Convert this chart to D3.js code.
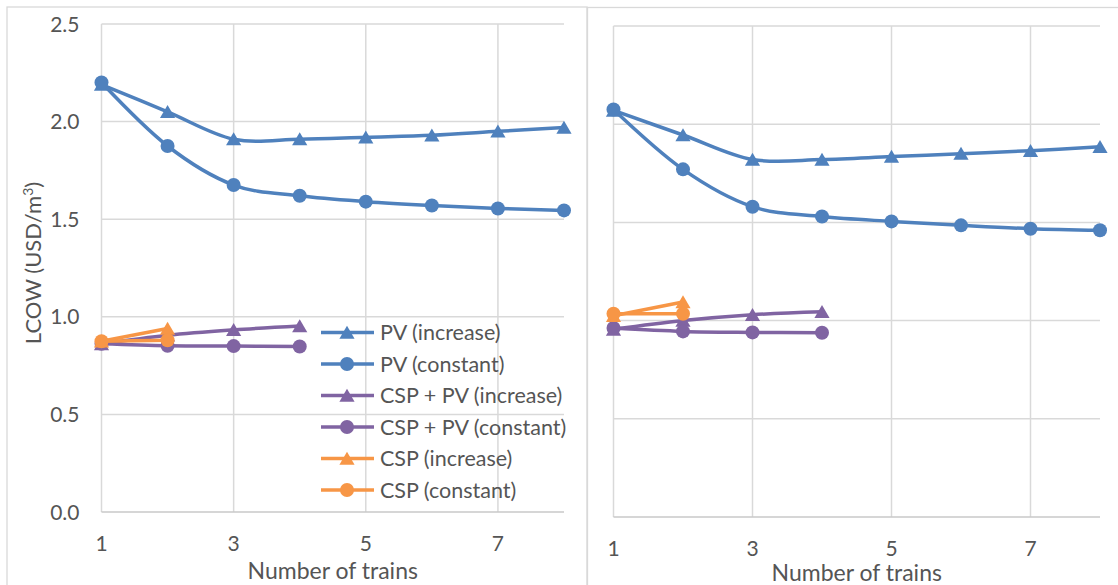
<!DOCTYPE html>
<html>
<head>
<meta charset="utf-8">
<script src="https://cdn.jsdelivr.net/npm/d3@7"></script>
<style>
  html, body { margin: 0; padding: 0; background: #fff; }
  svg { display: block; font-family: Lato, "Noto Sans", sans-serif; }
</style>
</head>
<body>
<svg id="chart" width="1118" height="585"></svg>
<script>
// values
const trains = [1, 2, 3, 4, 5, 6, 7, 8];
const xTicks = [1, 3, 5, 7];
const yTicks = [0, 0.5, 1.0, 1.5, 2.0, 2.5];

const leftPvIncrease = [2.19, 2.05, 1.91, 1.91, 1.92, 1.93, 1.95, 1.97];
const leftPvConstant = [2.20, 1.875, 1.675, 1.62, 1.59, 1.57, 1.555, 1.545];
const leftHybridIncrease = [0.86, 0.905, 0.933, 0.953];
const leftHybridConstant = [0.862, 0.852, 0.85, 0.848];
const leftCspIncrease = [0.875, 0.94];
const leftCspConstant = [0.875, 0.88];

const rightPvIncrease = [2.07, 1.945, 1.82, 1.82, 1.835, 1.85, 1.865, 1.885];
const rightPvConstant = [2.075, 1.77, 1.58, 1.53, 1.505, 1.485, 1.468, 1.46];
const rightHybridIncrease = [0.955, 1.0, 1.03, 1.045];
const rightHybridConstant = [0.962, 0.945, 0.94, 0.938];
const rightCspIncrease = [1.025, 1.095];
const rightCspConstant = [1.035, 1.035];

const seriesNames = ['PV (increase)', 'PV (constant)', 'CSP + PV (increase)',
  'CSP + PV (constant)', 'CSP (increase)', 'CSP (constant)'];
const seriesColors = ['#4F81BD', '#4F81BD', '#8064A2', '#8064A2', '#F79646', '#F79646'];
const seriesMarkers = ['triangle', 'circle', 'triangle', 'circle', 'triangle', 'circle'];

const svg = d3.select('#chart');
const textColor = '#555555';
const gridColor = '#d9d9d9';

const markerPath = type => type === 'triangle'
  ? 'M0,-6.8L7.6,6.2L-7.6,6.2Z'
  : d3.symbol(d3.symbolCircle, Math.PI * 7 * 7)();

function drawPanel(box, plot, seriesValues, opts) {
  const g = svg.append('g');

  // chart area border
  g.append('rect')
    .attr('x', box.x).attr('y', box.y)
    .attr('width', box.w).attr('height', box.h)
    .attr('fill', '#fff')
    .attr('stroke', gridColor).attr('stroke-width', 1.3);

  const x = d3.scaleLinear().domain([1, 8]).range([plot.left, plot.right]);
  const y = d3.scaleLinear().domain([0, 2.5]).range([plot.bottom, plot.top]);

  // gridlines
  g.append('g').selectAll('line.h')
    .data(yTicks.filter(d => d > 0))
    .join('line')
    .attr('x1', plot.left).attr('x2', plot.right)
    .attr('y1', d => y(d)).attr('y2', d => y(d))
    .attr('stroke', gridColor).attr('stroke-width', 1.5);

  g.append('g').selectAll('line.v')
    .data(xTicks)
    .join('line')
    .attr('x1', d => x(d)).attr('x2', d => x(d))
    .attr('y1', plot.top).attr('y2', plot.bottom)
    .attr('stroke', gridColor).attr('stroke-width', 1.5);

  // x axis line
  g.append('line')
    .attr('x1', plot.left).attr('x2', plot.right)
    .attr('y1', y(0)).attr('y2', y(0))
    .attr('stroke', '#c8c8c8').attr('stroke-width', 1.5);

  // x tick labels
  g.append('g').selectAll('text')
    .data(xTicks)
    .join('text')
    .attr('x', d => x(d))
    .attr('y', plot.bottom + 39)
    .attr('text-anchor', 'middle')
    .attr('font-size', 21)
    .attr('fill', textColor)
    .text(d => d);

  if (opts.yLabels) {
    g.append('g').selectAll('text')
      .data(yTicks)
      .join('text')
      .attr('x', plot.left - 22)
      .attr('y', d => y(d))
      .attr('dy', '0.36em')
      .attr('text-anchor', 'end')
      .attr('font-size', 21)
      .attr('fill', textColor)
      .text(d => d.toFixed(1));

    const yt = g.append('text')
      .attr('transform', `translate(${box.x + 34},${(plot.top + plot.bottom) / 2 - 5}) rotate(-90)`)
      .attr('text-anchor', 'middle')
      .attr('font-size', 22)
      .attr('fill', textColor);
    yt.append('tspan').text('LCOW (USD/m');
    yt.append('tspan').attr('font-size', 14).attr('dy', -8).text('3');
    yt.append('tspan').attr('dy', 8).text(')');
  }

  g.append('text')
    .attr('x', (plot.left + plot.right) / 2)
    .attr('y', opts.titleY)
    .attr('text-anchor', 'middle')
    .attr('font-size', 23)
    .attr('fill', textColor)
    .text('Number of trains');

  // series
  const line = d3.line()
    .x((d, i) => x(trains[i]))
    .y(d => y(d))
    .curve(d3.curveCardinal.tension(0));

  seriesValues.forEach((vals, si) => {
    const sg = g.append('g');
    sg.append('path')
      .attr('d', line(vals))
      .attr('fill', 'none')
      .attr('stroke', seriesColors[si])
      .attr('stroke-width', 3.5)
      .attr('stroke-linejoin', 'round');
    sg.selectAll('path.m')
      .data(vals)
      .join('path')
      .attr('class', 'm')
      .attr('transform', (d, i) => `translate(${x(trains[i])},${y(d)})`)
      .attr('d', markerPath(seriesMarkers[si]))
      .attr('fill', seriesColors[si]);
  });

  if (opts.legend) {
    const lg = g.append('g').attr('transform', `translate(${opts.legend.x},${opts.legend.y})`);
    const row = lg.selectAll('g')
      .data(seriesNames)
      .join('g')
      .attr('transform', (d, i) => `translate(0,${i * 31.5})`);
    row.append('line')
      .attr('x1', 0).attr('x2', 53)
      .attr('stroke', (d, i) => seriesColors[i])
      .attr('stroke-width', 3.5);
    row.append('path')
      .attr('transform', 'translate(26,0)')
      .attr('d', (d, i) => markerPath(seriesMarkers[i]))
      .attr('fill', (d, i) => seriesColors[i]);
    row.append('text')
      .attr('x', 59)
      .attr('dy', '0.36em')
      .attr('font-size', 21.5)
      .attr('fill', textColor)
      .text(d => d);
  }
}

drawPanel(
  { x: 7, y: 7, w: 580, h: 600 },
  { left: 101.5, right: 564, top: 24, bottom: 512 },
  [leftPvIncrease, leftPvConstant, leftHybridIncrease, leftHybridConstant, leftCspIncrease, leftCspConstant],
  { yLabels: true, legend: { x: 321, y: 332.5 }, titleY: 579 }
);

drawPanel(
  { x: 587.5, y: 7.5, w: 540, h: 600 },
  { left: 613.5, right: 1100, top: 26, bottom: 517 },
  [rightPvIncrease, rightPvConstant, rightHybridIncrease, rightHybridConstant, rightCspIncrease, rightCspConstant],
  { yLabels: false, titleY: 581 }
);
</script>
</body>
</html>
